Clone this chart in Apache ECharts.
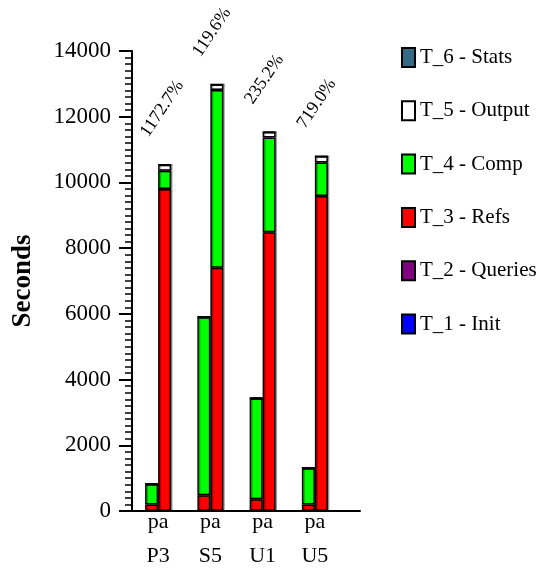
<!DOCTYPE html>
<html>
<head>
<meta charset="utf-8">
<script src="https://cdn.jsdelivr.net/npm/echarts@6/dist/echarts.min.js"></script>
<style>
  html, body { margin: 0; padding: 0; background: #fff; }
  #chart { width: 541px; height: 571px; }
</style>
</head>
<body>
<div id="chart"></div>
<script>
// Benchmarks, each measured with two configurations: p (left bar) and a (right bar)
const groups = ['P3', 'S5', 'U1', 'U5'];

// Seconds spent per task, p configuration
const initP    = [0, 0, 0, 0];
const queriesP = [0, 0, 0, 0];
const refsP    = [200, 480, 360, 200];
const compP    = [615, 5415, 3065, 1103];
const outputP  = [13, 15, 15, 15];
const statsP   = [0, 0, 0, 0];

// Seconds spent per task, a configuration
const initA    = [0, 0, 0, 0];
const queriesA = [0, 0, 0, 0];
const refsA    = [9800, 7400, 8480, 9590];
const compA    = [555, 5410, 2890, 1020];
const outputA  = [183, 168, 161, 184];
const statsA   = [0, 0, 0, 0];

// Slowdown of a relative to p, printed above each pair
const gainLabels = ['1172.7%', '119.6%', '235.2%', '719.0%'];

const yTicks = { min: 0, max: 14000, interval: 2000 };

const tasks = [
  { name: 'T_1 - Init',    color: '#0000ff', p: initP,    a: initA },
  { name: 'T_2 - Queries', color: '#800080', p: queriesP, a: queriesA },
  { name: 'T_3 - Refs',    color: '#ff0000', p: refsP,    a: refsA },
  { name: 'T_4 - Comp',    color: '#00ff00', p: compP,    a: compA },
  { name: 'T_5 - Output',  color: '#ffffff', p: outputP,  a: outputA },
  { name: 'T_6 - Stats',   color: '#336b85', p: statsP,   a: statsA }
];

const FONT = '"Liberation Serif", "Times New Roman", serif';

const series = [];
tasks.forEach(function (t, ti) {
  ['p', 'a'].forEach(function (cfg) {
    const s = {
      name: t.name,
      type: 'bar',
      stack: cfg,
      xAxisIndex: 0,
      yAxisIndex: 0,
      barWidth: 13,
      barGap: '0%',
      data: t[cfg],
      itemStyle: {
        color: t.color,
        borderColor: '#000',
        borderWidth: 1.5,
        shadowColor: 'rgba(0,0,0,0.3)',
        shadowOffsetX: 1.5,
        shadowBlur: 0
      },
      emphasis: { disabled: true },
      animation: false
    };
    if (cfg === 'a' && ti === tasks.length - 1) {
      s.label = {
        show: true,
        position: [-13, -29],
        rotate: 56,
        align: 'left',
        verticalAlign: 'middle',
        fontFamily: FONT,
        fontSize: 18,
        color: '#000',
        formatter: function (p) { return gainLabels[p.dataIndex]; }
      };
    }
    series.push(s);
  });
});

const chart = echarts.init(document.getElementById('chart'), null, { renderer: 'canvas' });
chart.setOption({
  backgroundColor: '#fff',
  animation: false,
  textStyle: { fontFamily: FONT, color: '#000' },
  legend: {
    orient: 'vertical',
    left: 396,
    top: 42,
    icon: 'rect',
    itemWidth: 13,
    itemHeight: 19,
    itemGap: 32.3,
    selectedMode: false,
    data: tasks.map(function (t) { return t.name; }).reverse(),
    textStyle: { fontFamily: FONT, fontSize: 21, color: '#000', padding: [0, 0, 0, 0] }
  },
  grid: [
    { left: 132, top: 51, width: 209, height: 460, outerBoundsMode: 'none' },
    { left: 132, top: 51, width: 228, height: 460, outerBoundsMode: 'none' }
  ],
  xAxis: [
    {
      type: 'category',
      gridIndex: 0,
      data: groups,
      axisLine: { show: false },
      axisTick: { show: false },
      axisLabel: {
        fontFamily: FONT,
        fontSize: 22,
        color: '#000',
        lineHeight: 34,
        margin: -6,
        formatter: function (v) { return 'pa\n' + v; }
      }
    },
    {
      type: 'value',
      gridIndex: 1,
      min: 0,
      max: 1,
      axisLine: { show: true, lineStyle: { color: '#000', width: 2 } },
      axisTick: { show: false },
      axisLabel: { show: false },
      splitLine: { show: false }
    }
  ],
  yAxis: [
    {
      type: 'value',
      gridIndex: 0,
      min: yTicks.min,
      max: yTicks.max,
      interval: yTicks.interval,
      name: 'Seconds',
      nameLocation: 'middle',
      nameGap: 95,
      nameTextStyle: { fontFamily: FONT, fontSize: 27, fontWeight: 'bold', color: '#000' },
      axisLine: { show: true, lineStyle: { color: '#000', width: 2 } },
      axisTick: { show: true, length: 13, lineStyle: { color: '#000', width: 2 } },
      minorTick: { show: true, splitNumber: 10, length: 7, lineStyle: { color: '#000', width: 1.5 } },
      axisLabel: {
        fontFamily: FONT,
        fontSize: 23,
        color: '#000',
        margin: 21,
        formatter: function (v) { return String(v); }
      },
      splitLine: { show: false }
    },
    {
      type: 'value',
      gridIndex: 1,
      show: false
    }
  ],
  series: series
});
</script>
</body>
</html>
